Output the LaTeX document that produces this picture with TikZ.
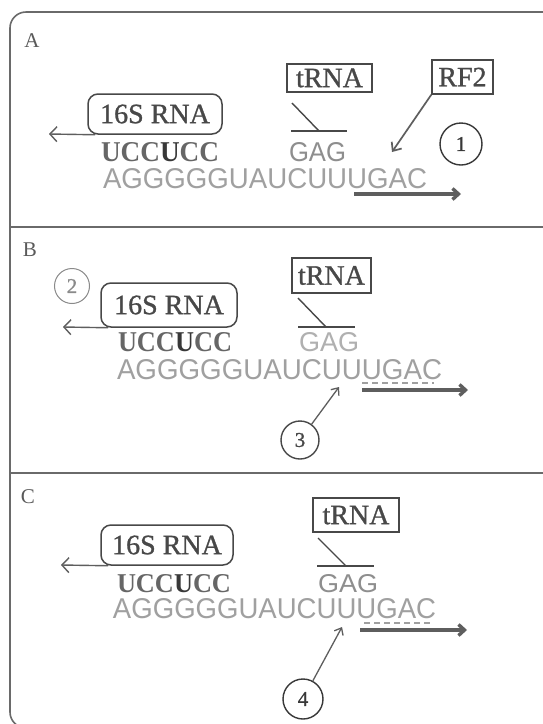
\documentclass[tikz,border=0pt]{standalone}
\usepackage{fontspec}
\setmainfont{Liberation Serif}
\newfontfamily\lblserif[FakeBold=1]{Liberation Serif}
\newfontfamily\rnasans{Liberation Sans}
\usetikzlibrary{arrows.meta}
\definecolor{framec}{HTML}{6A6A6A}
\definecolor{boxc}{HTML}{484848}
\definecolor{capc}{HTML}{5A5A5A}
\definecolor{uccc}{HTML}{666666}
\definecolor{uccdk}{HTML}{383838}
\definecolor{mrnac}{HTML}{A0A0A0}
\definecolor{gagc}{HTML}{8E8E8E}
\definecolor{arrc}{HTML}{5E5E5E}
\definecolor{lightc}{HTML}{8A8A8A}
\newcommand\lblfnt{\lblserif\fontsize{28}{30}\selectfont}
\newcommand\numfnt{\lblserif\fontsize{21}{23}\selectfont}
\newcommand\capfnt{\fontsize{21}{23}\selectfont}
\newcommand\uccword{\bfseries UCC\textcolor{uccdk}{U}CC}
\newcommand\nodepth[1]{\raisebox{0pt}[\height][0pt]{#1}}
\begin{document}
\begin{tikzpicture}[x=1pt,y=-1pt,
  frame/.style={draw=framec,line width=1.6pt},
  rbox/.style={draw=boxc,line width=1.5pt,rounded corners=10pt,text=boxc,font=\lblfnt,inner sep=0pt},
  sbox/.style={draw=boxc,line width=1.5pt,text=boxc,font=\lblfnt,inner sep=0pt},
  num/.style={circle,draw=boxc,line width=1.4pt,minimum size=38pt,inner sep=0pt,font=\numfnt,text=boxc},
  panellbl/.style={font=\capfnt,text=capc,inner sep=0pt},
  txt/.style={inner sep=0pt,outer sep=0pt,anchor=base west},
  thinarrow/.style={draw=arrc,line width=1.4pt,-{Straight Barb[length=7pt,width=15pt]}},
  medarrow/.style={draw=arrc,line width=1.7pt,-{Straight Barb[length=7pt,width=12pt]}},
  smallarrow/.style={draw=arrc,line width=1.3pt,-{Straight Barb[length=6pt,width=10pt]}},
  fatarrow/.style={draw=arrc,line width=3.4pt,-{Straight Barb[length=6pt,width=11pt]}},
  tline/.style={draw=boxc,line width=1.4pt},
  dashline/.style={draw=mrnac,line width=1.8pt,dash pattern=on 6pt off 4pt}
]
\useasboundingbox (0,0) rectangle (543,724);
\fill[white] (0,0) rectangle (543,724);
\begin{scope}
\clip (0,0) rectangle (543,724);
\draw[frame,rounded corners=16pt] (10,12) rectangle (575,728);
\end{scope}
\draw[frame] (10,227) -- (543,227);
\draw[frame] (10,473) -- (543,473);

% ---------- Panel A ----------
\node[panellbl] (labA) at (32,41) {A};
\node[rbox,minimum width=134pt,minimum height=40pt] (rA) at (155,114) {16S RNA};
\coordinate (lA) at (49,134);
\draw[thinarrow] ([xshift=8pt]rA.south west) -- (lA);
\node[txt,text=uccc] (uA) at (101,161) {\nodepth{\resizebox{118pt}{19pt}{\uccword}}};
\node[txt,text=gagc] (gA) at (289,161) {\nodepth{\resizebox{57pt}{19pt}{\rnasans GAG}}};
\node[txt,text=mrnac] (mA) at (103,188) {\resizebox{324pt}{20pt}{\rnasans AGGGGGUAUCUUUGAC}};
\node[sbox,minimum width=85pt,minimum height=28pt] (tA) at (329.5,78) {tRNA};
\coordinate (tAd1) at (292,103);
\coordinate (tAd2) at (319,131);
\coordinate (tAh1) at (291,131);
\coordinate (tAh2) at (347,131);
\draw[tline] (tAd1) -- (tAd2);
\draw[tline] (tAh1) -- (tAh2);
\node[sbox,minimum width=61pt,minimum height=34pt] (fA) at (462.5,77) {RF2};
\coordinate (fAt) at (392,152);
\draw[medarrow] (fA.south west) -- (fAt);
\node[num,text=uccdk,draw=uccdk,minimum size=42pt] (n1) at (461,144) {1};
\coordinate (kA1) at (354,194);
\coordinate (kA2) at (461,194);
\draw[fatarrow] (kA1) -- (kA2);

% ---------- Panel B ----------
\node[panellbl] (labB) at (30,250) {B};
\node[num,draw=lightc,text=lightc,line width=1pt,minimum size=35pt] (n2) at (72,286) {2};
\node[rbox,minimum width=136pt,minimum height=44pt] (rB) at (169,305) {16S RNA};
\coordinate (lB) at (63,327);
\draw[thinarrow] ([xshift=8pt]rB.south west) -- (lB);
\node[txt,text=uccc] (uB) at (118,351) {\nodepth{\resizebox{114pt}{19pt}{\uccword}}};
\node[txt,text=gagc!70] (gB) at (299,351) {\nodepth{\resizebox{60pt}{19pt}{\rnasans GAG}}};
\node[txt,text=mrnac] (mB) at (117,379) {\resizebox{325pt}{20pt}{\rnasans AGGGGGUAUCUUUGAC}};
\node[sbox,minimum width=79pt,minimum height=35pt] (tB) at (331.5,275.5) {tRNA};
\coordinate (tBd1) at (298,298);
\coordinate (tBd2) at (326,327);
\coordinate (tBh1) at (298,327);
\coordinate (tBh2) at (355,327);
\draw[tline] (tBd1) -- (tBd2);
\draw[tline] (tBh1) -- (tBh2);
\coordinate (dB1) at (362,383);
\coordinate (dB2) at (434,383);
\draw[dashline] (dB1) -- (dB2);
\coordinate (kB1) at (362,390);
\coordinate (kB2) at (468,390);
\draw[fatarrow] (kB1) -- (kB2);
\node[num] (n3) at (300,440) {3};
\coordinate (aB) at (339,387);
\draw[smallarrow] (n3) -- (aB);

% ---------- Panel C ----------
\node[panellbl] (labC) at (28,497) {C};
\node[rbox,minimum width=132pt,minimum height=40pt] (rC) at (167,545) {16S RNA};
\coordinate (lC) at (61,565);
\draw[thinarrow] ([xshift=8pt]rC.south west) -- (lC);
\node[txt,text=uccc] (uC) at (117,592) {\nodepth{\resizebox{114pt}{18pt}{\uccword}}};
\node[txt,text=gagc] (gC) at (318,592) {\nodepth{\resizebox{60pt}{18pt}{\rnasans GAG}}};
\node[txt,text=mrnac] (mC) at (113,618) {\resizebox{323pt}{20pt}{\rnasans AGGGGGUAUCUUUGAC}};
\node[sbox,minimum width=86pt,minimum height=34pt] (tC) at (356,515) {tRNA};
\coordinate (tCd1) at (318,538);
\coordinate (tCd2) at (346,566);
\coordinate (tCh1) at (317,566);
\coordinate (tCh2) at (374,566);
\draw[tline] (tCd1) -- (tCd2);
\draw[tline] (tCh1) -- (tCh2);
\coordinate (dC1) at (364,623);
\coordinate (dC2) at (433,623);
\draw[dashline] (dC1) -- (dC2);
\coordinate (kC1) at (360,630);
\coordinate (kC2) at (467,630);
\draw[fatarrow] (kC1) -- (kC2);
\node[num,text=uccdk,draw=uccdk,minimum size=40pt] (n4) at (303,699) {4};
\coordinate (aC) at (342,627);
\draw[smallarrow] (n4) -- (aC);
\end{tikzpicture}
\end{document}
